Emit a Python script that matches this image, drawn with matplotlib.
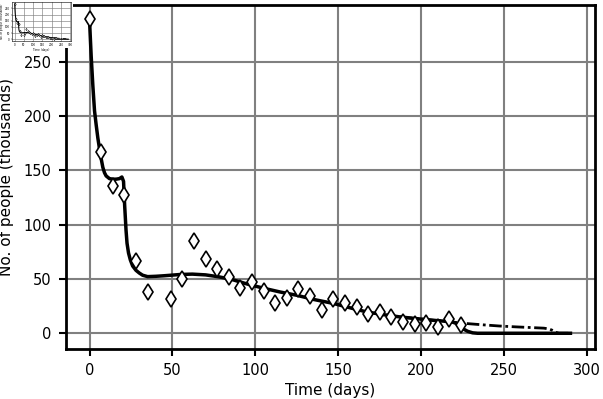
import matplotlib.pyplot as plt
from matplotlib.patches import Rectangle

# Observed weekly counts (thousands)
obs_days = [0, 7, 14, 21, 28, 35, 49, 56, 63, 70, 77, 84, 91, 98, 105, 112,
            119, 126, 133, 140, 147, 154, 161, 168, 175, 182, 189, 196, 203,
            210, 217, 224]
obs_vals = [290, 167, 135.5, 127, 67, 38.3, 31.2, 49.7, 84.6, 68.8, 59, 51.5,
            41.4, 47, 38.9, 27.5, 32.1, 41, 34, 21, 31.2, 28.1, 23.8, 18.2,
            19.4, 15.1, 10.8, 8.3, 9, 5.8, 13, 7.4]

# Model fit (solid)
fit_days = [0, 1, 2, 3, 4, 5, 6, 7, 8, 9, 10, 12, 14, 16, 18, 19.5, 20.5,
            21.2, 22, 22.6, 23.5, 24.6, 26, 28, 30, 32, 35, 40, 45, 50, 55,
            62, 70, 78, 86, 95, 105, 115, 125, 135, 147, 157, 167, 177, 187,
            197, 207, 215, 219, 222, 225, 228, 231, 234, 290]
fit_vals = [288, 255, 228, 205, 192, 180, 170, 161, 153, 148, 145, 142.5,
            142, 142, 142.5, 144, 140, 117, 95, 83, 74, 67.6, 62, 58, 55.5,
            53.5, 52.2, 52.5, 53, 53.6, 54.2, 54.5, 53.8, 52, 49.5, 45.4, 41.5,
            38, 35, 31.2, 27.5, 23.5, 19.7, 17.2, 15.1, 13.5, 12, 11, 10.3,
            8.5, 4.3, 1.8, 0.4, 0, 0]

# Alternative model tail (dash-dot)
alt_days = [187, 197, 207, 215, 222, 227, 237, 247, 257, 267, 274, 277, 279,
            281, 283, 290]
alt_vals = [15.1, 13.5, 12, 11, 9.8, 9, 7.8, 6.7, 5.9, 5.2, 4.7, 4, 2.8,
            1, 0, 0]


def draw(ax, lw=1.0, ms=8):
    ax.plot(fit_days, fit_vals, color='black', lw=2.5 * lw, zorder=3)
    ax.plot(alt_days, alt_vals, color='black', lw=2.0 * lw,
            linestyle=(0, (4.5, 1.3, 1, 1.3)), zorder=3)
    ax.plot(obs_days, obs_vals, linestyle='none', marker='d', ms=ms,
            mfc='white', mec='black', mew=1.2 * lw, zorder=4)
    ax.grid(True, color='#808080', linewidth=1.5 * lw)
    ax.set_axisbelow(True)
    ax.set_xlim(-14.5, 304.5)
    ax.set_ylim(-14.5, 302.5)


fig = plt.figure(figsize=(6.03, 3.99), dpi=100)
ax = fig.add_axes([65.5 / 603, 50 / 399, 529 / 603, 344 / 399])
draw(ax)
ax.set_xticks([0, 50, 100, 150, 200, 250, 300])
ax.set_yticks([0, 50, 100, 150, 200, 250])
ax.tick_params(labelsize=10.5, width=1.5, length=5, pad=5)
for s in ax.spines.values():
    s.set_linewidth(2)
ax.set_xlabel('Time (days)', fontsize=11, labelpad=4)
ax.set_ylabel('No. of people (thousands)', fontsize=11, labelpad=7)

# thumbnail in the top-left corner
fig.patches.append(Rectangle((0, 1 - 48 / 399), 73 / 603, 48 / 399,
                             transform=fig.transFigure, facecolor='white',
                             edgecolor='none', zorder=5))
ins = fig.add_axes([12 / 603, 1 - 41 / 399, 59 / 603, 39 / 399], zorder=6)
draw(ins, lw=0.3, ms=1.2)
ins.set_xticks([0, 50, 100, 150, 200, 250, 300])
ins.set_yticks([0, 50, 100, 150, 200, 250])
ins.tick_params(labelsize=2, width=0.3, length=1, pad=0.5)
for s in ins.spines.values():
    s.set_linewidth(0.4)
ins.set_xlabel('Time (days)', fontsize=2, labelpad=0.5)
ins.set_ylabel('No. of people (thousands)', fontsize=2, labelpad=0.3)

plt.savefig('out.png', dpi=100)
